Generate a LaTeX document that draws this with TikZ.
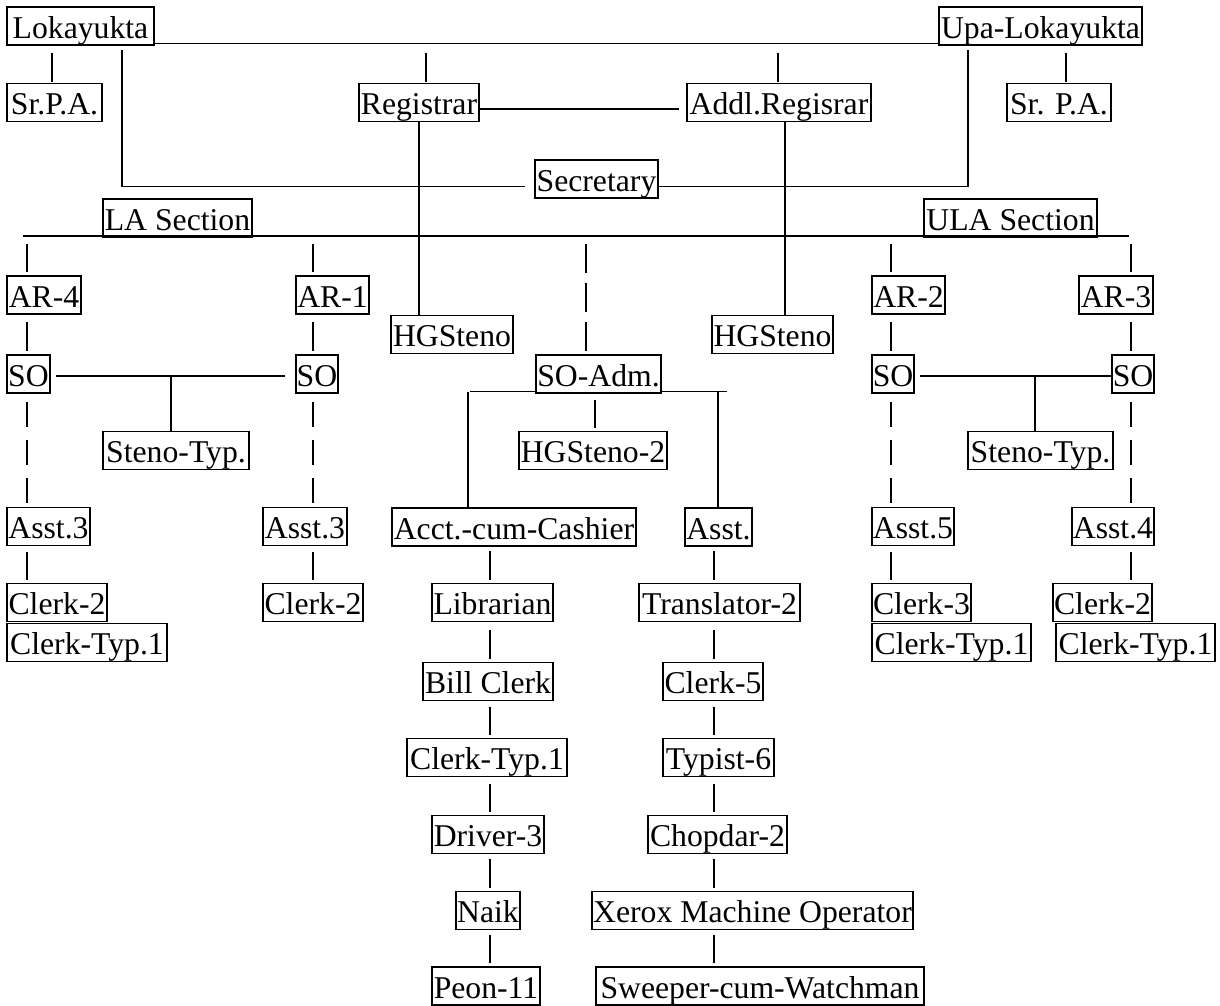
\documentclass[tikz,border=0pt]{standalone}
\usepackage{fontspec}
\setmainfont{Liberation Serif}
\begin{document}
\begin{tikzpicture}[x=1pt,y=1pt,
 bx/.style={draw, line width=1.6pt, inner xsep=1pt, inner ysep=0pt, minimum height=38pt, text height=24pt, text depth=0pt, font=\fontsize{31.7}{36}\selectfont, anchor=center},
 ln/.style={line width=1.1pt},
 tk/.style={line width=1.6pt},
 dsh/.style={line width=1.1pt, dash pattern=on 25pt off 13pt},
 dsh2/.style={line width=1.1pt, dash pattern=on 29pt off 10pt}]
\useasboundingbox (0,0) rectangle (1220,-1005);
% nodes
\node[bx,minimum width=147pt] (lok) at (80.5,-26) {Lokayukta};
\node[bx,minimum width=203pt] (upa) at (1040.5,-26) {Upa-Lokayukta};
\node[bx,minimum width=95pt] (srpa1) at (54.5,-102.5) {Sr.P.A.};
\node[bx,minimum width=120pt] (reg) at (419,-102.5) {Registrar};
\node[bx,minimum width=184pt] (addl) at (779,-102.5) {Addl.Regisrar};
\node[bx,minimum width=104pt] (srpa2) at (1059,-102.5) {Sr. P.A.};
\node[bx,minimum width=123pt] (sec) at (596.5,-179) {Secretary};
\node[bx,minimum width=149pt] (la) at (177.5,-218) {LA Section};
\node[bx,minimum width=173pt] (ula) at (1010.5,-218) {ULA Section};
\node[bx,minimum width=74pt] (ar4) at (44,-295) {AR-4};
\node[bx,minimum width=73pt] (ar1) at (332.5,-295) {AR-1};
\node[bx,minimum width=73pt] (ar2) at (908.5,-295) {AR-2};
\node[bx,minimum width=74pt] (ar3) at (1116,-295) {AR-3};
\node[bx,minimum width=122pt] (hgs1) at (452,-334.5) {HGSteno};
\node[bx,minimum width=121pt] (hgs2) at (772.5,-334.5) {HGSteno};
\node[bx,minimum width=43pt] (so1) at (28.5,-374) {SO};
\node[bx,minimum width=42pt] (so2) at (317,-374) {SO};
\node[bx,minimum width=125pt] (soadm) at (598.5,-374) {SO-Adm.};
\node[bx,minimum width=42pt] (so3) at (893,-374) {SO};
\node[bx,minimum width=42pt] (so4) at (1133,-374) {SO};
\node[bx,minimum width=146pt] (st1) at (176,-450.5) {Steno-Typ.};
\node[bx,minimum width=148pt] (hgs3) at (593,-450.5) {HGSteno-2};
\node[bx,minimum width=145pt] (st2) at (1040.5,-450.5) {Steno-Typ.};
\node[bx,minimum width=83pt] (asst3a) at (48.5,-526.5) {Asst.3};
\node[bx,minimum width=84pt] (asst3b) at (305,-526.5) {Asst.3};
\node[bx,minimum width=244pt] (acct) at (514,-527) {Acct.-cum-Cashier};
\node[bx,minimum width=67pt] (asst) at (718.5,-527) {Asst.};
\node[bx,minimum width=82pt] (asst5) at (913,-526.5) {Asst.5};
\node[bx,minimum width=82pt] (asst4) at (1113,-526.5) {Asst.4};
\node[bx,minimum width=100pt] (clerk2a) at (57,-602.5) {Clerk-2};
\node[bx,minimum width=100pt] (clerk2b) at (313,-602.5) {Clerk-2};
\node[bx,minimum width=121pt] (lib) at (492.5,-602.5) {Librarian};
\node[bx,minimum width=161pt] (trans) at (719.5,-602.5) {Translator-2};
\node[bx,minimum width=99pt] (clerk3) at (921.5,-602.5) {Clerk-3};
\node[bx,minimum width=99pt] (clerk2c) at (1102.5,-602.5) {Clerk-2};
\node[bx,minimum width=160pt] (ct1) at (87,-642.5) {Clerk-Typ.1};
\node[bx,minimum width=159pt] (ct2) at (951.5,-642.5) {Clerk-Typ.1};
\node[bx,minimum width=159pt] (ct3) at (1135.5,-642.5) {Clerk-Typ.1};
\node[bx,minimum width=130pt] (bill) at (488,-681.5) {Bill Clerk};
\node[bx,minimum width=100pt] (clerk5) at (713,-681.5) {Clerk-5};
\node[bx,minimum width=160pt] (ct4) at (487,-757.5) {Clerk-Typ.1};
\node[bx,minimum width=111pt] (typist) at (718.5,-757.5) {Typist-6};
\node[bx,minimum width=112pt] (driver) at (488,-834.5) {Driver-3};
\node[bx,minimum width=139pt] (chop) at (717.5,-834.5) {Chopdar-2};
\node[bx,minimum width=64pt] (naik) at (488,-910.5) {Naik};
\node[bx,minimum width=321pt] (xerox) at (752.5,-910.5) {Xerox Machine Operator};
\node[bx,minimum width=108pt] (peon) at (486,-986) {Peon-11};
\node[bx,minimum width=328pt] (sweep) at (760,-986) {Sweeper-cum-Watchman};
% top line and stubs
\draw[ln] ([yshift=2pt]lok.south east) -- ([yshift=2pt]upa.south west);
\draw[ln] ([xshift=-2.5pt,yshift=1pt]srpa1.north) -- ++(0,29);
\draw[ln] ([xshift=7pt,yshift=1pt]reg.north) -- ++(0,29);
\draw[ln] ([xshift=-1pt,yshift=1pt]addl.north) -- ++(0,29);
\draw[ln] ([xshift=7pt,yshift=1pt]srpa2.north) -- ++(0,29);
\draw[ln] ([yshift=-6.5pt]reg.east) -- ([xshift=-7pt,yshift=-6.5pt]addl.west);
\draw[tk] (reg.south) -- (reg.south |- hgs1.north);
\draw[tk] ([xshift=6pt]addl.south) -- ([xshift=6pt]addl.south |- hgs2.north);
% secretary links
\coordinate (lv) at (122,-50);
\coordinate (uv) at (968,-50);
\draw[tk] (lv) |- ([xshift=-9pt,yshift=-7.5pt]sec.west);
\draw[line width=2.6pt] (lv) -- ++(0,-40);
\draw[tk] ([yshift=-7.5pt]sec.east) -| (uv);
% section line
\coordinate (lal) at (23,-236);
\coordinate (lar) at (1129,-236);
\draw[ln] (lal) -- (lar);
\draw[ln] ([xshift=-17pt,yshift=3pt]ar4.north) -- ++(0,28);
\draw[ln] ([xshift=-19.5pt,yshift=3pt]ar1.north) -- ++(0,28);
\draw[ln] ([xshift=-17.5pt,yshift=3pt]ar2.north) -- ++(0,28);
\draw[ln] ([xshift=15pt,yshift=3pt]ar3.north) -- ++(0,28);
\draw[dsh2] ([xshift=-12.5pt,yshift=3pt]soadm.north) -- ++(0,107);
% AR -> SO
\draw[ln] ([xshift=-1.5pt,yshift=3pt]so1.north) -- ++(0,29);
\draw[ln] ([xshift=-4pt,yshift=3pt]so2.north) -- ++(0,29);
\draw[ln] ([xshift=-2pt,yshift=3pt]so3.north) -- ++(0,29);
\draw[ln] ([xshift=-2pt,yshift=3pt]so4.north) -- ++(0,29);
% SO pairs and Steno-Typ
\draw[tk] ([xshift=5pt,yshift=-2pt]so1.east) -- ([xshift=-10pt,yshift=-2pt]so2.west);
\draw[tk] ([xshift=-5pt]st1.north) -- ++(0,56);
\draw[tk] ([xshift=5pt,yshift=-2pt]so3.east) -- ([yshift=-2pt]so4.west);
\draw[tk] ([xshift=-5.5pt]st2.north) -- ++(0,56);
% SO -> Asst dashed
\draw[dsh] ([xshift=-1.5pt,yshift=-8pt]so1.south) -- ([xshift=-21.5pt]asst3a.north);
\draw[dsh] ([xshift=-4pt,yshift=-8pt]so2.south) -- ([xshift=8pt]asst3b.north);
\draw[dsh] ([xshift=-2pt,yshift=-8pt]so3.south) -- ([xshift=-22pt]asst5.north);
\draw[dsh] ([xshift=-2pt,yshift=-8pt]so4.south) -- ([xshift=18pt]asst4.north);
% Asst -> Clerk
\draw[ln] ([xshift=-30pt,yshift=3pt]clerk2a.north) -- ++(0,28);
\draw[ln] ([yshift=3pt]clerk2b.north) -- ++(0,28);
\draw[ln] ([xshift=-30.5pt,yshift=3pt]clerk3.north) -- ++(0,28);
\draw[ln] ([xshift=28.5pt,yshift=3pt]clerk2c.north) -- ++(0,28);
% SO-Adm
\draw[ln] ([yshift=2pt]soadm.south west) -- ++(-65,0);
\draw[ln] ([yshift=2pt]soadm.south east) -- ++(65,0);
\draw[tk] ([xshift=-46pt]acct.north) -- ++(0,115);
\draw[tk] ([xshift=-0.5pt]asst.north) -- ++(0,115);
\draw[ln] ([xshift=2pt,yshift=3pt]hgs3.north) -- ++(0,28);
% left chain
\draw[ln] ([xshift=-2.5pt,yshift=3pt]lib.north) -- ++(0,29);
\draw[ln] ([xshift=2pt,yshift=3pt]bill.north) -- ++(0,29);
\draw[ln] ([xshift=3pt,yshift=3pt]ct4.north) -- ++(0,28);
\draw[ln] ([xshift=2pt,yshift=3pt]driver.north) -- ++(0,28);
\draw[ln] ([xshift=2pt,yshift=3pt]naik.north) -- ++(0,29);
\draw[ln] ([xshift=4pt,yshift=3pt]peon.north) -- ++(0,28);
% right chain
\draw[ln] ([xshift=-5.5pt,yshift=3pt]trans.north) -- ++(0,29);
\draw[ln] ([xshift=1pt,yshift=3pt]clerk5.north) -- ++(0,29);
\draw[ln] ([xshift=-4.5pt,yshift=3pt]typist.north) -- ++(0,28);
\draw[ln] ([xshift=-3.5pt,yshift=3pt]chop.north) -- ++(0,28);
\draw[ln] ([xshift=-38.5pt,yshift=3pt]xerox.north) -- ++(0,29);
\draw[ln] ([xshift=-46pt,yshift=3pt]sweep.north) -- ++(0,28);
\end{tikzpicture}
\end{document}
